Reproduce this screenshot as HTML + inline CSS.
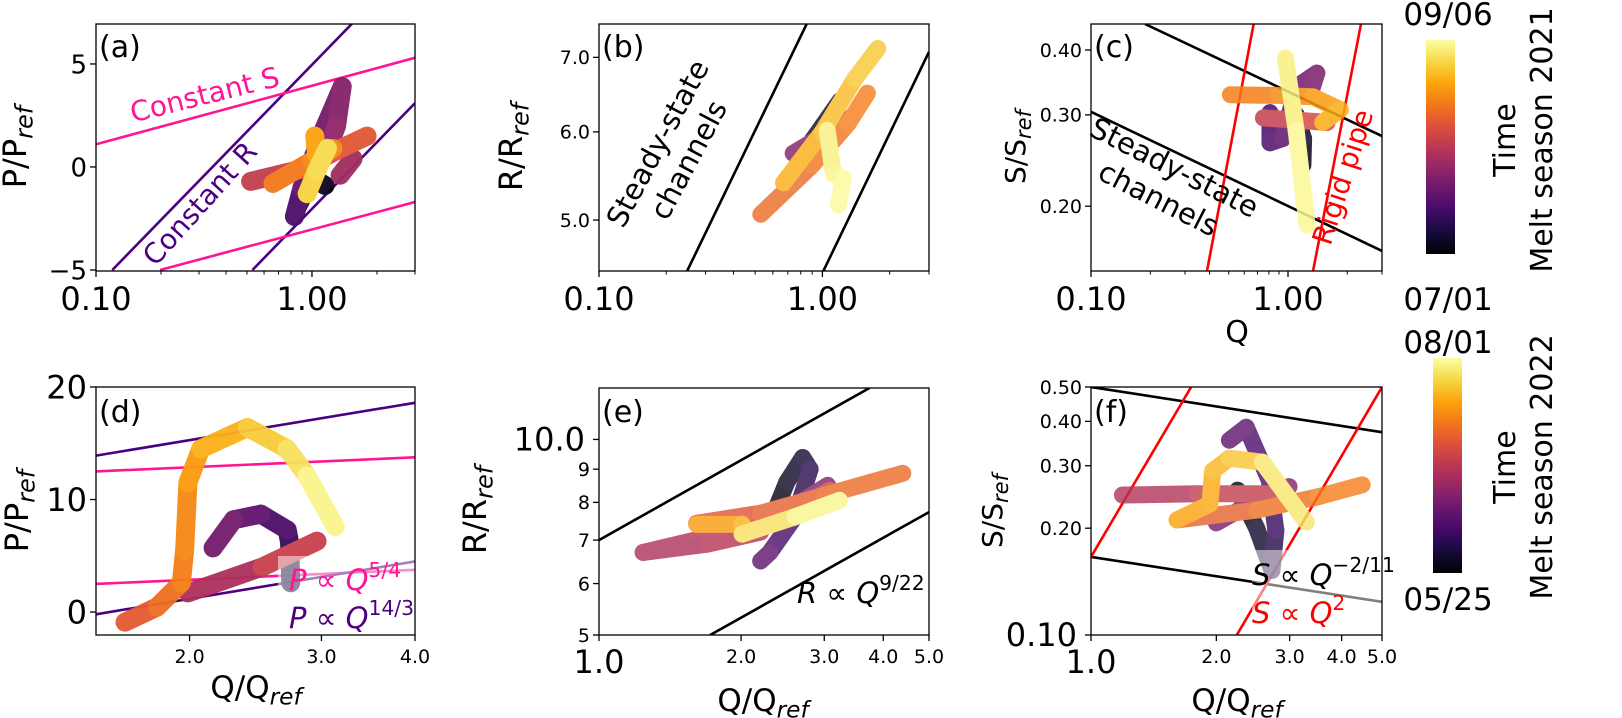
<!DOCTYPE html>
<html><head><meta charset="utf-8"><style>
html,body{margin:0;padding:0;background:#fff;}
svg{display:block;font-family:"DejaVu Sans","Liberation Sans",sans-serif;}
</style></head><body>
<svg id="fig" width="1622" height="718" viewBox="0 0 1622 718" xmlns="http://www.w3.org/2000/svg">
<defs>
<linearGradient id="inferno" x1="0" y1="1" x2="0" y2="0">
<stop offset="0" stop-color="#000004"/><stop offset="0.1" stop-color="#160b39"/><stop offset="0.2" stop-color="#420a68"/><stop offset="0.3" stop-color="#6a176e"/><stop offset="0.4" stop-color="#932667"/><stop offset="0.5" stop-color="#bc3754"/><stop offset="0.6" stop-color="#dd513a"/><stop offset="0.7" stop-color="#f37819"/><stop offset="0.8" stop-color="#fca50a"/><stop offset="0.9" stop-color="#f6d746"/><stop offset="1" stop-color="#fcffa4"/>
</linearGradient>
</defs>
<g id="root"></g>
</svg>
<script>
// ---- data: trajectories (null = break) ----
const aQ=[1.15,1.0,0.85,0.83,0.9,1.1,1.38,1.3,1.15,null,1.55,1.35,null,0.52,0.9,1.3,1.8,null,0.66,1.0,1.25,null,1.03,1.05,null,0.95,1.05,1.18];
const aP=[-0.9,-0.5,-2.0,-2.4,-1.0,1.5,3.9,2.0,0.5,null,0.4,-0.4,null,-0.7,-0.1,0.8,1.5,null,-0.8,0.3,0.9,null,1.5,0.6,null,-1.3,-0.2,0.9];
const aT=[0.02,0.08,0.15,0.2,0.25,0.3,0.35,0.38,0.4,null,0.42,0.45,null,0.5,0.55,0.6,0.63,null,0.68,0.72,0.75,null,0.78,0.8,null,0.88,0.9,0.92];
const bQ=[1.2,0.85,null,0.74,1.0,1.34,null,0.53,0.9,1.3,1.59,null,0.67,1.0,1.4,1.77,null,1.05,1.12,1.24,1.18];
const bR=[6.4,5.8,null,5.74,5.95,6.18,null,5.06,5.6,6.1,6.5,null,5.4,6.0,6.7,7.13,null,6.02,5.5,5.45,5.16];
const bT=[0.02,0.1,null,0.3,0.4,0.5,null,0.65,0.68,0.7,0.72,null,0.8,0.83,0.86,0.88,null,0.95,0.97,0.98,1.0];
const cQ=[1.19,1.2,1.1,null,0.81,0.81,0.94,1.11,1.40,1.3,null,0.75,1.1,1.58,null,0.51,0.9,1.34,1.84,1.5,null,0.97,1.1,1.25];
const cS=[0.24,0.27,0.3,null,0.303,0.265,0.27,0.34,0.361,0.33,null,0.296,0.293,0.29,null,0.328,0.327,0.325,0.307,0.29,null,0.386,0.28,0.184];
const cT=[0.02,0.06,0.1,null,0.2,0.22,0.25,0.3,0.33,0.35,null,0.5,0.55,0.6,null,0.7,0.73,0.76,0.8,0.83,null,0.95,0.97,1.0];
const dQ=[2.73,2.72,2.70,2.49,2.29,2.15,null,1.99,2.5,2.96,null,1.64,1.81,1.95,1.97,1.99,2.07,2.39,2.70,2.87,3.13];
const dP=[2.6,6.2,7.3,8.7,8.2,5.7,null,1.7,4.0,6.3,null,-0.9,0.45,2.6,5.5,11.5,14.5,16.4,14.5,12.1,7.6];
const dT=[0.05,0.15,0.2,0.25,0.3,0.35,null,0.42,0.5,0.57,null,0.6,0.65,0.7,0.72,0.75,0.8,0.85,0.9,0.95,1.0];
const eQ=[2.35,2.5,2.7,2.8,2.6,2.3,2.2,null,3.05,2.6,2.3,null,1.24,1.6,2.06,2.6,3.08,null,1.24,1.7,2.2,null,1.61,2.2,3.0,4.4,null,1.61,2.01,2.01,null,2.01,2.6,3.23];
const eR=[7.7,8.6,9.38,9.0,7.6,6.7,6.5,null,8.5,7.9,7.5,null,6.7,7.0,7.33,7.8,8.35,null,6.7,6.9,7.2,null,7.43,7.7,8.2,8.87,null,7.4,7.4,7.15,null,7.15,7.6,8.06];
const eT=[0.0,0.04,0.08,0.1,0.18,0.25,0.28,null,0.35,0.38,0.4,null,0.45,0.48,0.5,0.53,0.55,null,0.45,0.47,0.5,null,0.6,0.62,0.65,0.68,null,0.75,0.8,0.85,null,0.9,0.95,1.0];
const fQ=[2.25,2.5,2.72,2.78,2.68,2.36,2.15,null,2.0,2.5,2.99,null,1.19,1.8,2.8,null,1.61,2.5,3.5,4.48,null,1.61,1.93,1.96,2.15,2.58,3.29];
const fS=[0.256,0.2,0.152,0.197,0.273,0.385,0.354,null,0.207,0.24,0.262,null,0.248,0.25,0.25,null,0.211,0.225,0.245,0.265,null,0.211,0.234,0.29,0.315,0.307,0.208];
const fT=[0.0,0.05,0.1,0.15,0.2,0.25,0.28,null,0.32,0.35,0.38,null,0.45,0.5,0.55,null,0.62,0.66,0.7,0.72,null,0.78,0.8,0.82,0.85,0.88,1.0];
// ---- reference power-law lines: pairs of endpoints ----
const aLineQ=[[0.119,1.53],[0.53,3.0],[0.1,3.0],[0.198,3.0]];
const aLineY=[[-5,6.95],[-5,3.1],[1.1,5.3],[-5,-1.7]];
const aLineC=["#4b0082","#4b0082","#ff1493","#ff1493"];
const bLineQ=[[0.248,0.85],[1.01,3.0]];
const bLineY=[[4.5,7.5],[4.5,7.08]];
const cLineQ=[[0.188,3.0],[0.1,3.0],[0.388,0.67],[1.34,2.35]];
const cLineY=[[0.449,0.273],[0.304,0.164],[0.15,0.45],[0.15,0.45]];
const cLineC=["#000","#000","#ff0000","#ff0000"];
const dLineQ=[[1.5,4.0],[1.5,4.0],[1.5,4.0],[1.5,4.0]];
const dLineY=[[13.9,18.6],[12.5,13.75],[2.5,3.75],[-0.2,4.5]];
const dLineC=["#4b0082","#ff1493","#ff1493","#4b0082"];
const eLineQ=[[1.0,3.74],[1.72,5.0]];
const eLineY=[[7.0,12.0],[5.0,7.73]];
const fLineQ=[[1.0,5.0],[1.0,5.0],[1.0,1.74],[2.24,5.0]];
const fLineY=[[0.5,0.373],[0.166,0.124],[0.166,0.5],[0.1,0.5]];
const fLineC=["#000","#000","#ff0000","#ff0000"];
// ---- ticks ----
const xTicksTop=[0.1,1.0]; const xTickLabelsTop=["0.10","1.00"];
const aYTicks=[-5,0,5]; const aYLabels=["\u22125","0","5"];
const bYTicks=[5,6,7]; const bYLabels=["5.0","6.0","7.0"];
const cYTicks=[0.2,0.3,0.4]; const cYLabels=["0.20","0.30","0.40"];
const dXTicks=[2,3,4]; const dXLabels=["2.0","3.0","4.0"];
const dYTicks=[0,10,20]; const dYLabels=["0","10","20"];
const eXTicks=[2,3,4,5]; const eXLabels=["2.0","3.0","4.0","5.0"];
const eYTicks=[5,6,7,8,9]; const eYLabels=["5","6","7","8","9"];
const fYTicks=[0.2,0.3,0.4,0.5]; const fYLabels=["0.20","0.30","0.40","0.50"];

const NS="http://www.w3.org/2000/svg";
const root=document.getElementById('root');
function mk(tag,attrs,parent){const e=document.createElementNS(NS,tag);for(const k in attrs)e.setAttribute(k,attrs[k]);(parent||root).appendChild(e);return e;}
const stops=[[0,[0,0,4]],[0.1,[22,11,57]],[0.2,[66,10,104]],[0.3,[106,23,110]],[0.4,[147,38,103]],[0.5,[188,55,84]],[0.6,[221,81,58]],[0.7,[243,120,25]],[0.8,[252,165,10]],[0.9,[246,215,70]],[1,[252,255,164]]];
function inferno(t){t=Math.max(0,Math.min(1,t));for(let i=1;i<stops.length;i++){if(t<=stops[i][0]){const a=stops[i-1],b=stops[i];const f=(t-a[0])/(b[0]-a[0]);const c=a[1].map((v,j)=>Math.round(v+(b[1][j]-v)*f));return `rgb(${c[0]},${c[1]},${c[2]})`;}}return 'rgb(252,255,164)';}

function makeAxis(id,x0,x1,y0,y1,xd,yd,xlog,ylog){
  const L=v=>Math.log10(v);
  const sx=v=>xlog? x0+(L(v)-L(xd[0]))/(L(xd[1])-L(xd[0]))*(x1-x0) : x0+(v-xd[0])/(xd[1]-xd[0])*(x1-x0);
  const sy=v=>ylog? y1-(L(v)-L(yd[0]))/(L(yd[1])-L(yd[0]))*(y1-y0) : y1-(v-yd[0])/(yd[1]-yd[0])*(y1-y0);
  const g=mk('g',{});
  
  
  const cp=mk('clipPath',{id:'clip-'+id},g);mk('rect',{x:x0,y:y0,width:x1-x0,height:y1-y0},cp);
  const plot=mk('g',{'clip-path':`url(#clip-${id})`},g);
  
  
  return {id,x0,x1,y0,y1,sx,sy,g,plot,xd,yd,xlog,ylog};
}
function lines(ax,Q,Y,C){
  for(let i=0;i<Q.length;i++){
    const l=mk('line',{x1:ax.sx(Q[i][0]),y1:ax.sy(Y[i][0]),x2:ax.sx(Q[i][1]),y2:ax.sy(Y[i][1]),stroke:C?C[i]:'#000','stroke-width':2.6},ax.plot);
    
    
  }
}
function traj(ax,Q,Y,T,w,op){
  const g=mk('g',{opacity:op},ax.plot);
  
  
  for(let i=0;i<Q.length-1;i++){
    if(Q[i]===null||Q[i+1]===null)continue;
    const s=mk('line',{x1:ax.sx(Q[i]),y1:ax.sy(Y[i]),x2:ax.sx(Q[i+1]),y2:ax.sy(Y[i+1]),stroke:inferno((T[i]+T[i+1])/2),'stroke-width':w,'stroke-linecap':'round'},g);
    
    
  }
}
function frame(ax){
  const r=mk('rect',{x:ax.x0,y:ax.y0,width:ax.x1-ax.x0,height:ax.y1-ax.y0,fill:'none',stroke:'#000','stroke-width':1.3},ax.g);
  
  
}
function xticks(ax,vals,labels,fs,base,minor,bigFirst){
  vals.forEach((v,i)=>{
    const x=ax.sx(v);
    mk('line',{x1:x,y1:ax.y1,x2:x,y2:ax.y1+6,stroke:'#000','stroke-width':1.3},ax.g);
    const big=bigFirst&&i===0;
    const t=mk('text',{x:x,y:big?base+10:base,'font-size':big?32:fs,'text-anchor':'middle',fill:'#000'},ax.g);
    t.textContent=labels[i];
    
    
  });
  (minor||[]).forEach(v=>{const x=ax.sx(v);mk('line',{x1:x,y1:ax.y1,x2:x,y2:ax.y1+3.5,stroke:'#000','stroke-width':1},ax.g);});
}
function yticks(ax,vals,labels,fs){
  vals.forEach((v,i)=>{
    const y=ax.sy(v);
    mk('line',{x1:ax.x0-6,y1:y,x2:ax.x0,y2:y,stroke:'#000','stroke-width':1.3},ax.g);
    const t=mk('text',{x:ax.x0-9,y:y+fs*0.36,'font-size':fs,'text-anchor':'end',fill:'#000'},ax.g);
    t.textContent=labels[i];
    
    
  });
}
function label(html,x,y,fs,rot,name,anchor,color,italic){
  const t=mk('text',{x:x,y:y,'font-size':fs,'text-anchor':anchor||'middle',fill:color||'#000'});
  if(rot)t.setAttribute('transform',`rotate(${rot} ${x} ${y})`);
  if(italic)t.setAttribute('font-style','italic');
  t.innerHTML=html;
  
  
  return t;
}
function multiline(l1,l2,cx,cy,rot,fs,color,name){
  const g=mk('g',{transform:`translate(${cx} ${cy}) rotate(${rot})`});
  
  
  const a=mk('text',{x:0,y:-4,'font-size':fs,'text-anchor':'middle',fill:color},g);a.textContent=l1;
  const b=mk('text',{x:0,y:fs+2,'font-size':fs,'text-anchor':'middle',fill:color},g);b.textContent=l2;
}
const sub=s=>`<tspan font-size="0.75em" font-style="italic" dy="0.28em">${s}</tspan>`;
const minorTop=[0.2,0.3,0.4,0.5,0.6,0.7,0.8,0.9,2,3];

// (a)
const A=makeAxis('a',96,415,24,271,[0.1,3.0],[-5.05,6.94],true,false);
lines(A,aLineQ,aLineY,aLineC); traj(A,aQ,aP,aT,19,0.95); frame(A);
xticks(A,xTicksTop,xTickLabelsTop,32,310,minorTop); yticks(A,aYTicks,aYLabels,26);
label('(a)',99,57,30,0,'panel-label-a','start');
label('Constant S',207,104,28,-14,'constant-s-label','middle','#ff1493');
label('Constant R',207,210,28,-48,'constant-r-label','middle','#4b0082');
label('P/P'+sub('ref'),26,147,32,-90,'y-axis-title-a');
// (b)
const B=makeAxis('b',599,929,24,271,[0.1,3.0],[4.5,7.5],true,true);
lines(B,bLineQ,bLineY); traj(B,bQ,bR,bT,17,0.8); frame(B);
xticks(B,xTicksTop,xTickLabelsTop,32,310,minorTop); yticks(B,bYTicks,bYLabels,19);
label('(b)',602,57,30,0,'panel-label-b','start');
multiline('Steady-state','channels',670,150,-62,29,'#000','steady-state-label-b');
label('R/R'+sub('ref'),522,147,32,-90,'y-axis-title-b');
// (c)
const C=makeAxis('c',1091,1382,24,271,[0.1,3.0],[0.15,0.449],true,true);
lines(C,cLineQ,cLineY,cLineC); traj(C,cQ,cS,cT,17,0.85); frame(C);
xticks(C,xTicksTop,xTickLabelsTop,32,310,minorTop); yticks(C,cYTicks,cYLabels,19);
label('(c)',1094,57,30,0,'panel-label-c','start');
multiline('Steady-state','channels',1168,180,27,29,'#000','steady-state-label-c');
label('Rigid pipe',1352,180,28,-72,'rigid-pipe-label','middle','#ff0000');
label('S/S'+sub('ref'),1025,147,28,-90,'y-axis-title-c');
label('Q',1237,342,30,0,'x-axis-title-c');
// (d)
const D=makeAxis('d',96,415,387,635,[1.5,4.0],[-2.04,20],true,false);
lines(D,dLineQ,dLineY,dLineC); traj(D,dQ,dP,dT,19,0.95);
const lbD=mk('rect',{x:278,y:556,width:137,height:79,fill:'#fff',opacity:0.5},D.plot);


frame(D);
xticks(D,dXTicks,dXLabels,19,663); yticks(D,dYTicks,dYLabels,32);
label('(d)',99,422,30,0,'panel-label-d','start');
label('<tspan font-style="italic">P</tspan> \u221d <tspan font-style="italic">Q</tspan><tspan font-size="0.7em" dy="-0.65em">5/4</tspan>',289,590,29,0,'legend-entry-p-5-4','start','#ff1493');
label('<tspan font-style="italic">P</tspan> \u221d <tspan font-style="italic">Q</tspan><tspan font-size="0.7em" dy="-0.65em">14/3</tspan>',289,628,29,0,'legend-entry-p-14-3','start','#4b0082');
label('P/P'+sub('ref'),28,511,32,-90,'y-axis-title-d');
label('Q/Q'+sub('ref'),256,698,31,0,'x-axis-title-d');
// (e)
const E=makeAxis('e',599,929,388,635,[1.0,5.0],[5,12],true,true);
lines(E,eLineQ,eLineY); traj(E,eQ,eR,eT,17,0.8); frame(E);
xticks(E,[1].concat(eXTicks),["1.0"].concat(eXLabels),19,663,[],true);
yticks(E,eYTicks,eYLabels,19);
mk('line',{x1:593,y1:E.sy(10),x2:599,y2:E.sy(10),stroke:'#000','stroke-width':1.3},E.g);
label('10.0',585,E.sy(10)+11,32,0,'y-tick-label-10','end');
label('(e)',602,422,30,0,'panel-label-e','start');
label('<tspan font-style="italic">R</tspan> \u221d <tspan font-style="italic">Q</tspan><tspan font-size="0.7em" dy="-0.65em">9/22</tspan>',797,603,29,0,'legend-entry-r-9-22','start','#000');
label('R/R'+sub('ref'),486,510,32,-90,'y-axis-title-e');
label('Q/Q'+sub('ref'),763,711,31,0,'x-axis-title-e');
// (f)
const F=makeAxis('f',1091,1382,387,635,[1.0,5.0],[0.1,0.5],true,true);
lines(F,fLineQ,fLineY,fLineC); traj(F,fQ,fS,fT,17,0.8);
const lbF=mk('rect',{x:1252,y:550,width:130,height:85,fill:'#fff',opacity:0.5},F.plot);


frame(F);
xticks(F,[1].concat(eXTicks),["1.0"].concat(eXLabels),19,663,[],true);
yticks(F,fYTicks,fYLabels,19);
mk('line',{x1:1085,y1:635,x2:1091,y2:635,stroke:'#000','stroke-width':1.3},F.g);
label('0.10',1077,646,32,0,'y-tick-label-0-10','end');
label('(f)',1094,422,30,0,'panel-label-f','start');
label('<tspan font-style="italic">S</tspan> \u221d <tspan font-style="italic">Q</tspan><tspan font-size="0.7em" dy="-0.65em">\u22122/11</tspan>',1252,585,29,0,'legend-entry-s-2-11','start','#000');
label('<tspan font-style="italic">S</tspan> \u221d <tspan font-style="italic">Q</tspan><tspan font-size="0.7em" dy="-0.65em">2</tspan>',1252,623,29,0,'legend-entry-s-2','start','#ff0000');
label('S/S'+sub('ref'),1002,511,28,-90,'y-axis-title-f');
label('Q/Q'+sub('ref'),1237,711,31,0,'x-axis-title-f');
// colorbars
const cb1=mk('rect',{x:1426,y:40,width:29,height:214,fill:'url(#inferno)'});


const cb2=mk('rect',{x:1433,y:358,width:29,height:215,fill:'url(#inferno)'});


label('09/06',1448,25,31,0,'colorbar-2021-max');
label('07/01',1448,310,31,0,'colorbar-2021-min');
label('08/01',1448,353,31,0,'colorbar-2022-max');
label('05/25',1448,610,31,0,'colorbar-2022-min');
label('Time',1515,140,30,-90,'colorbar-2021-title');
label('Melt season 2021',1552,140,30,-90,'season-2021-label');
label('Time',1515,467,30,-90,'colorbar-2022-title');
label('Melt season 2022',1552,467,30,-90,'season-2022-label');
</script>
</body></html>
